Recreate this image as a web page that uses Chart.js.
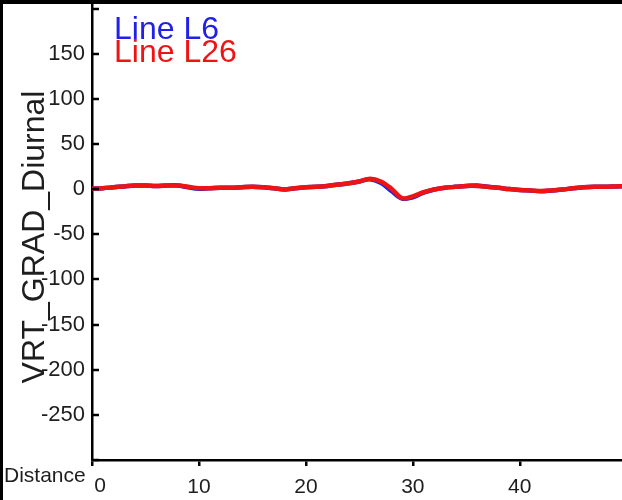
<!DOCTYPE html>
<html>
<head>
<meta charset="utf-8">
<script src="https://cdn.jsdelivr.net/npm/chart.js@4/dist/chart.umd.min.js"></script>
<style>
  html, body { margin: 0; padding: 0; background: #fff; }
  #wrap { width: 622px; height: 500px; }
</style>
</head>
<body>
<div id="wrap"><canvas id="chart" width="622" height="500"></canvas></div>
<script>
// values
const distance = [0, 1, 2, 3, 4, 5, 6, 7, 8, 9, 10, 11, 12, 13, 14, 15, 16, 17, 18, 19,
                  20, 21, 22, 23, 24, 25, 26, 27, 28, 29, 30, 31, 32, 33, 34, 35, 36, 37, 38, 39,
                  40, 41, 42, 43, 44, 45, 46, 47, 48, 49, 50];
const lineL6 = [0.5, 1, 2, 3, 4, 4, 3.5, 4, 4, 2, 0.5, 1, 1.5, 1.5, 2, 2.5, 2, 1, -0.5, 1,
                2, 2.5, 3.5, 5, 6.5, 8.5, 11, 7, -2, -10.5, -9, -4, -0.5, 1.5, 2.5, 3.5, 4, 2.5, 1.5, 0,
                -1, -1.5, -2.5, -1.5, -0.5, 1, 2, 2.5, 2.5, 3, 3.3];
const lineL26 = [0.5, 1, 2, 3, 4, 4, 3.5, 4, 4, 2.5, 1, 1, 1.5, 1.5, 2, 2.5, 2, 1, -0.5, 1,
                 2, 2.5, 3.5, 5, 6.5, 8.5, 11.5, 8.5, 0.5, -10, -8, -3.5, -0.5, 1.5, 2.5, 3.5, 3.5, 2.5, 1.5, 0,
                 -1, -1.5, -2, -1.5, -0.5, 1, 2, 2.5, 2.5, 3, 3.3];
const xTicks = [0, 10, 20, 30, 40];
const yTicks = [-300, -250, -200, -150, -100, -50, 0, 50, 100, 150, 200];
const yLabelled = [-250, -200, -150, -100, -50, 0, 50, 100, 150];

const FONT = '"Liberation Sans", Arial, sans-serif';
const TEXT = '#1e1e1e';

// frame, inward y ticks, axis title and coloured legend text
const decor = {
    id: 'decor',
    beforeDraw(chart) {
        const ctx = chart.ctx;
        ctx.save();
        ctx.fillStyle = '#fff';
        ctx.fillRect(0, 0, chart.width, chart.height);
        ctx.restore();
    },
    afterDraw(chart) {
        const ctx = chart.ctx;
        const x = chart.scales.x;
        const y = chart.scales.y;
        const area = chart.chartArea;
        ctx.save();

        // inward ticks on the y axis
        ctx.strokeStyle = '#000';
        ctx.lineWidth = 2.5;
        y.ticks.forEach(t => {
            const py = Math.round(y.getPixelForValue(t.value));
            ctx.beginPath();
            ctx.moveTo(area.left, py);
            ctx.lineTo(area.left + 7, py);
            ctx.stroke();
        });

        // first x label sits a little right of its tick
        ctx.fillStyle = TEXT;
        ctx.font = '21px ' + FONT;
        ctx.textAlign = 'center';
        ctx.textBaseline = 'middle';
        ctx.fillText(String(xTicks[0]), x.getPixelForValue(xTicks[0]) + 8, 486);

        // y axis title
        ctx.font = '32px ' + FONT;
        ctx.textBaseline = 'alphabetic';
        ctx.save();
        ctx.translate(44, 237);
        ctx.rotate(-Math.PI / 2);
        ctx.fillText('VRT_GRAD_Diurnal', 0, 0);
        ctx.restore();

        // x axis title, bottom left
        ctx.font = '21px ' + FONT;
        ctx.textAlign = 'left';
        ctx.fillText('Distance', 4, 482);

        // legend as coloured text
        ctx.font = '32px ' + FONT;
        const ds = chart.data.datasets;
        ctx.fillStyle = ds[0].borderColor;
        ctx.fillText(ds[0].label, 114, 39);
        ctx.fillStyle = ds[1].borderColor;
        ctx.fillText(ds[1].label, 114, 62);

        // black frame on top and left
        ctx.fillStyle = '#000';
        ctx.fillRect(0, 0, chart.width, 4);
        ctx.fillRect(0, 0, 3, chart.height);
        ctx.restore();
    }
};

const ctx = document.getElementById('chart').getContext('2d');
new Chart(ctx, {
    type: 'line',
    data: {
        datasets: [{
            label: 'Line L6',
            data: distance.map((d, i) => ({ x: d, y: lineL6[i] })),
            borderColor: '#2020e6',
            borderWidth: 4.5,
            pointRadius: 0,
            tension: 0.35,
            order: 1
        }, {
            label: 'Line L26',
            data: distance.map((d, i) => ({ x: d, y: lineL26[i] })),
            borderColor: '#ee1414',
            borderWidth: 4.5,
            pointRadius: 0,
            tension: 0.35,
            order: 0
        }]
    },
    options: {
        responsive: false,
        animation: false,
        devicePixelRatio: 1,
        layout: { padding: { top: 4, right: 0, left: 0, bottom: 0 } },
        plugins: {
            legend: { display: false },
            tooltip: { enabled: false }
        },
        scales: {
            x: {
                type: 'linear',
                min: 0,
                max: 49.56,
                afterBuildTicks: scale => { scale.ticks = xTicks.map(v => ({ value: v })); },
                afterFit: scale => {
                    scale.height = 40;
                    scale.paddingLeft = 0;
                    scale.paddingRight = 0;
                },
                border: { color: '#000', width: 2.5 },
                grid: {
                    drawOnChartArea: false,
                    drawTicks: true,
                    tickLength: 6,
                    color: '#000',
                    lineWidth: 2.5
                },
                ticks: {
                    color: TEXT,
                    padding: 9,
                    maxRotation: 0,
                    font: { family: FONT, size: 21 },
                    callback: v => v === xTicks[0] ? '' : String(v)
                }
            },
            y: {
                min: -300,
                max: 205,
                afterBuildTicks: scale => { scale.ticks = yTicks.map(v => ({ value: v })); },
                afterFit: scale => {
                    scale.width = 92;
                    scale.paddingTop = 0;
                    scale.paddingBottom = 0;
                },
                border: { color: '#000', width: 2.5 },
                grid: { drawOnChartArea: false, drawTicks: false },
                ticks: {
                    color: TEXT,
                    padding: 7,
                    font: { family: FONT, size: 22 },
                    callback: v => yLabelled.includes(v) ? String(v) : ''
                }
            }
        }
    },
    plugins: [decor]
});
</script>
</body>
</html>
